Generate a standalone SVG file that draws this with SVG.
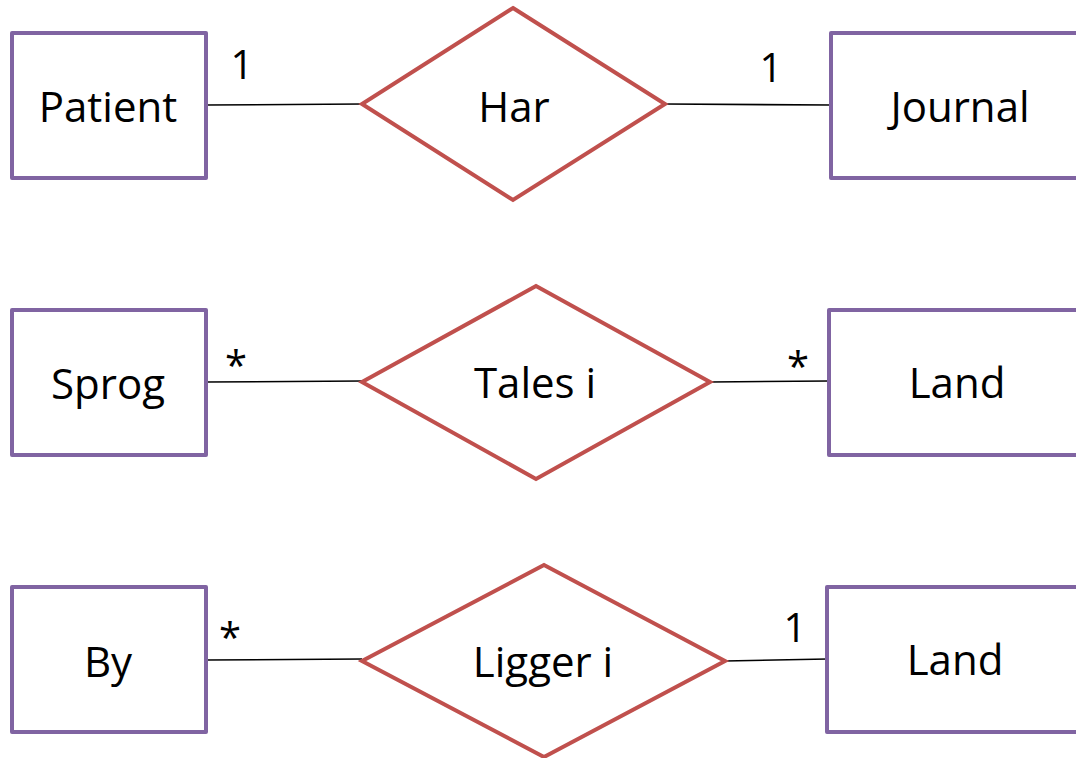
<svg xmlns="http://www.w3.org/2000/svg" width="1076" height="758" viewBox="0 0 1076 758">
<style>
.ent{fill:#fff;stroke:#8064A2;stroke-width:4;stroke-linejoin:round}
.rel{fill:#fff;stroke:#C0504D;stroke-width:4;stroke-linejoin:miter}
.lbl{font-family:"Open Sans","Liberation Sans",sans-serif;font-size:42px;fill:#000;text-anchor:middle}
.card{font-family:"Open Sans","Liberation Sans",sans-serif;font-size:40px;fill:#000;text-anchor:middle}
.conn line{stroke:#000;stroke-width:1.6}
</style>
<rect width="1076" height="758" fill="#fff"/>
<g id="connectors" class="conn">
<line x1="206" y1="105" x2="362" y2="104"/>
<line x1="665" y1="104" x2="831" y2="105"/>
<line x1="206" y1="382" x2="362" y2="381"/>
<line x1="710" y1="382" x2="829" y2="381"/>
<line x1="206" y1="660" x2="362" y2="659"/>
<line x1="725" y1="661" x2="827" y2="659"/>
</g>
<g id="patient"><rect class="ent" x="12" y="33" width="194" height="145"/><text class="lbl" x="108" y="122">Patient</text></g>
<g id="har"><polygon class="rel" points="513,8 665,104 513,200 362,104"/><text class="lbl" x="514" y="122">Har</text></g>
<g id="journal"><rect class="ent" x="831" y="33" width="260" height="145"/><text class="lbl" x="960" y="122">Journal</text></g>
<g id="sprog"><rect class="ent" x="12" y="310" width="194" height="145"/><text class="lbl" x="108" y="399">Sprog</text></g>
<g id="talesi"><polygon class="rel" points="536,286 710,382 536,479 362,382"/><text class="lbl" x="535" y="398">Tales i</text></g>
<g id="land1"><rect class="ent" x="829" y="310" width="260" height="145"/><text class="lbl" x="957" y="398">Land</text></g>
<g id="by"><rect class="ent" x="12" y="587" width="194" height="145"/><text class="lbl" x="108" y="677">By</text></g>
<g id="liggeri"><polygon class="rel" points="544,565 725,661 544,757 362,661"/><text class="lbl" x="543" y="677">Ligger i</text></g>
<g id="land2"><rect class="ent" x="827" y="587" width="262" height="145"/><text class="lbl" x="955" y="675">Land</text></g>
<g id="cardinalities">
<text class="card" x="242" y="79">1</text>
<text class="card" x="771" y="82">1</text>
<text class="card" x="236" y="380">*</text>
<text class="card" x="798" y="381">*</text>
<text class="card" x="230" y="652">*</text>
<text class="card" x="795" y="642">1</text>
</g>
</svg>
